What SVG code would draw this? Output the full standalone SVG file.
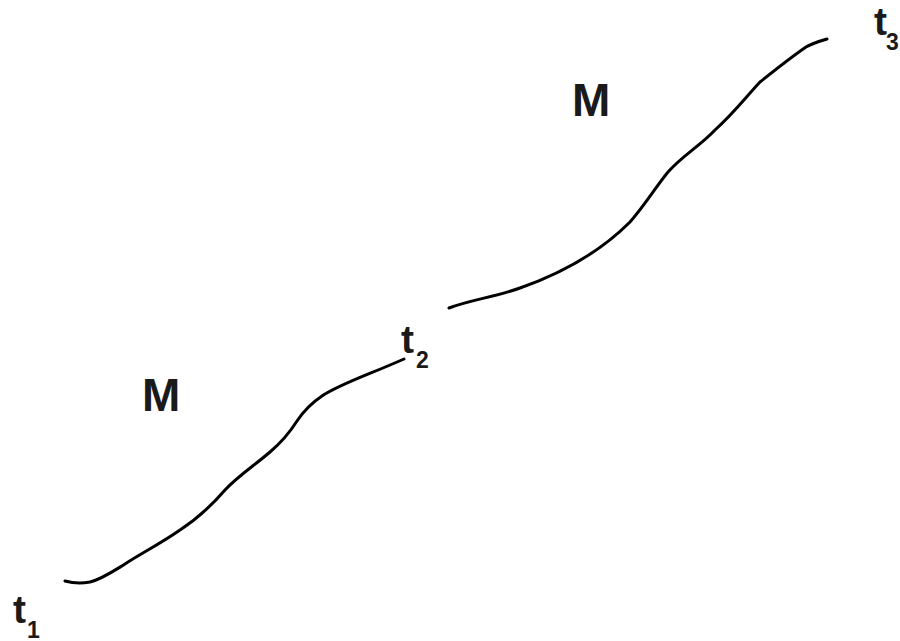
<svg xmlns="http://www.w3.org/2000/svg" width="900" height="641" viewBox="0 0 900 641">
<style>
.c{fill:none;stroke:#000;stroke-width:3;stroke-linecap:round;stroke-linejoin:round}
.t{font-family:"Liberation Sans",Arial,sans-serif;font-weight:bold;fill:#1a1a1a}
.m{font-size:46px}
.v{font-size:39px}
.s{font-size:23px}
</style>
<rect width="900" height="641" fill="#fff"/>
<g id="connectors">
<path id="curve-lower" class="c" d="M65,581 C72,583 80,584 90,582 C102,579 112,572 125,564 C140,554 160,544 180,530 C200,517 212,505 225,490 C238,476 255,465 270,452 C283,441 290,432 297,421 C303,412 310,404 322,396 C340,384 368,375 404,359"/>
<path id="curve-upper" class="c" d="M449,308 C470,300 495,297 520,288 C560,274 600,252 630,222 C645,205 655,188 668,172 C683,155 700,146 715,130 C735,112 745,98 760,82 C775,70 790,58 806,47 C813,43 820,41 827,39"/>
</g>
<g id="label-M1"><text class="t m" x="142" y="411">M</text></g>
<g id="label-M2"><text class="t m" x="572" y="116">M</text></g>
<g id="label-t1"><text class="t v" x="13" y="623">t</text><text class="t s" x="27" y="638">1</text></g>
<g id="label-t2"><text class="t v" x="401" y="353">t</text><text class="t s" x="416" y="368">2</text></g>
<g id="label-t3"><text class="t v" x="874" y="35">t</text><text class="t s" x="886" y="50">3</text></g>
</svg>
